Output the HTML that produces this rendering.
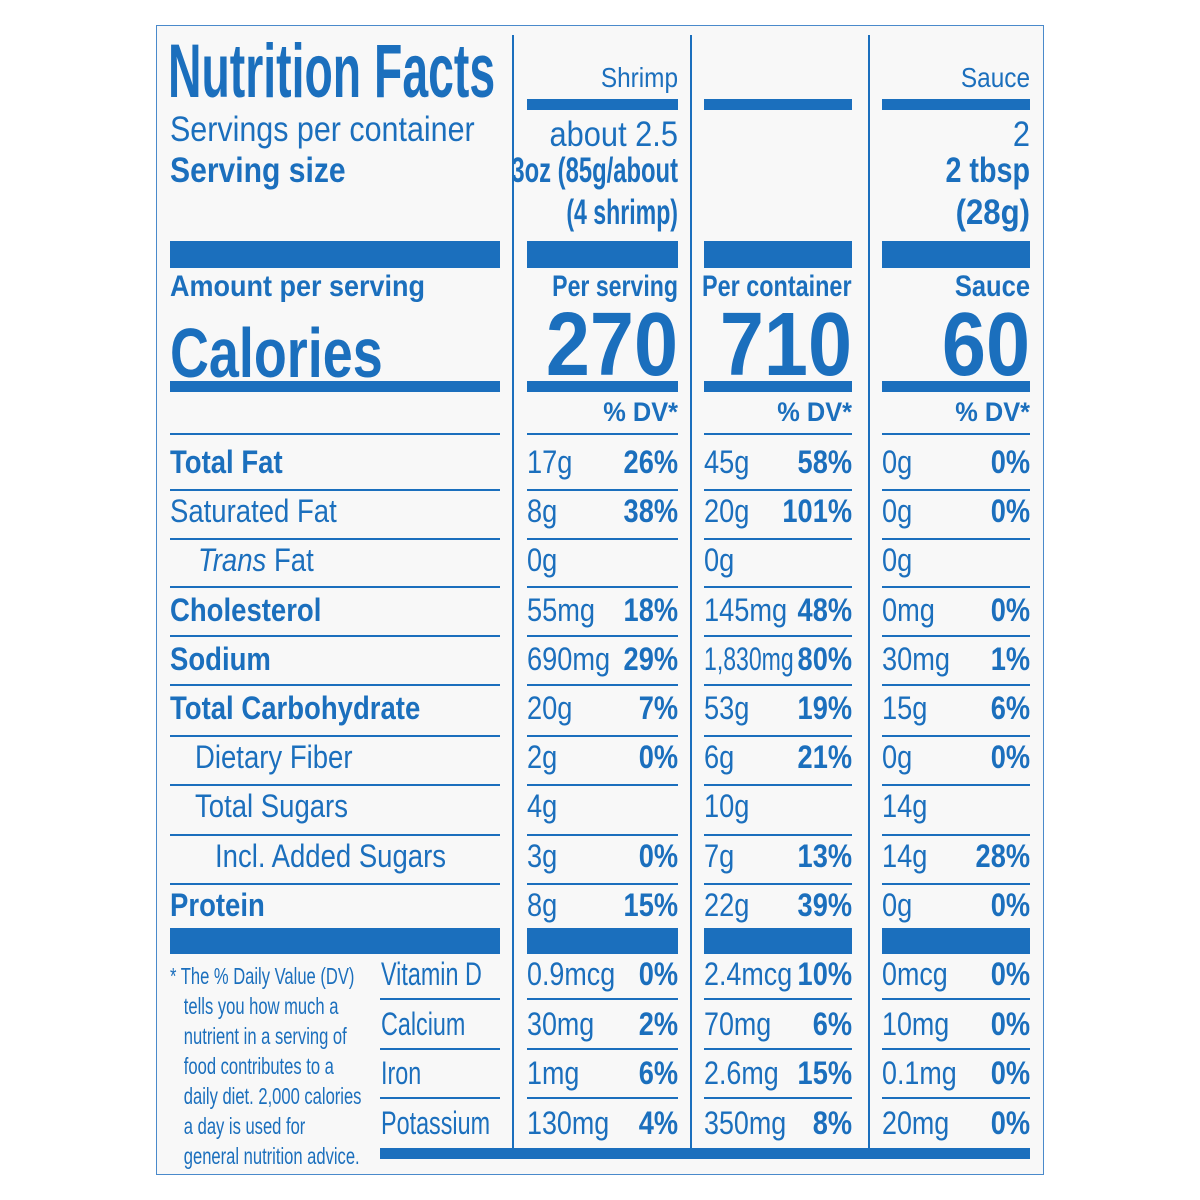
<!DOCTYPE html>
<html><head><meta charset="utf-8"><style>
html,body{margin:0;padding:0;background:#fff;}
#c{position:relative;width:1200px;height:1200px;background:#fff;overflow:hidden;font-family:"Liberation Sans",sans-serif;color:#1b6fbd;}
.b{position:absolute;background:#1b6fbd;}
.t{position:absolute;line-height:1;white-space:nowrap;font-size:32px;transform-origin:left center;}
.r{text-align:right;transform-origin:right center;}
.bo{font-weight:bold;}
</style></head><body><div id="c">
<div style="position:absolute;left:156px;top:25px;width:886px;height:1148px;border:1.5px solid #4a8acb;background:#f8f8f8;"></div>
<div class="b" style="left:512px;top:35px;width:2px;height:1113px"></div>
<div class="b" style="left:690px;top:35px;width:2px;height:1113px"></div>
<div class="b" style="left:868px;top:35px;width:2px;height:1113px"></div>
<div class="b" style="left:527px;top:99px;width:151px;height:11px"></div>
<div class="b" style="left:704px;top:99px;width:148px;height:11px"></div>
<div class="b" style="left:882px;top:99px;width:148px;height:11px"></div>
<div class="b" style="left:170px;top:241px;width:330px;height:27px"></div>
<div class="b" style="left:527px;top:241px;width:151px;height:27px"></div>
<div class="b" style="left:704px;top:241px;width:148px;height:27px"></div>
<div class="b" style="left:882px;top:241px;width:148px;height:27px"></div>
<div class="b" style="left:170px;top:381px;width:330px;height:11px"></div>
<div class="b" style="left:527px;top:381px;width:151px;height:11px"></div>
<div class="b" style="left:704px;top:381px;width:148px;height:11px"></div>
<div class="b" style="left:882px;top:381px;width:148px;height:11px"></div>
<div class="b" style="left:170px;top:928px;width:330px;height:26px"></div>
<div class="b" style="left:527px;top:928px;width:151px;height:26px"></div>
<div class="b" style="left:704px;top:928px;width:148px;height:26px"></div>
<div class="b" style="left:882px;top:928px;width:148px;height:26px"></div>
<div class="b" style="left:380px;top:1148px;width:650px;height:11px"></div>

<div class="t bo" style="left:168px;top:34px;font-size:76px;transform:scaleX(0.61)">Nutrition Facts</div>
<div class="t" style="left:170px;top:112px;font-size:35px;transform:scaleX(0.87)">Servings per container</div>
<div class="t bo" style="left:170px;top:153px;font-size:35px;transform:scaleX(0.86)">Serving size</div>
<div class="t bo" style="left:170px;top:272px;font-size:30px;transform:scaleX(0.9)">Amount per serving</div>
<div class="t bo" style="left:170px;top:318px;font-size:70px;transform:scaleX(0.77)">Calories</div>

<div class="t r" style="left:527px;width:151px;top:64px;font-size:28px;transform:scaleX(0.87)">Shrimp</div>
<div class="t r" style="left:882px;width:148px;top:64px;font-size:28px;transform:scaleX(0.87)">Sauce</div>
<div class="t r" style="left:527px;width:151px;top:117px;font-size:35px;transform:scaleX(0.88)">about 2.5</div>
<div class="t r bo" style="left:378px;width:300px;top:153px;font-size:35px;transform:scaleX(0.68)">3oz (85g/about</div>
<div class="t r bo" style="left:378px;width:300px;top:195px;font-size:35px;transform:scaleX(0.66)">(4 shrimp)</div>
<div class="t r" style="left:882px;width:148px;top:117px;font-size:35px;transform:scaleX(0.88)">2</div>
<div class="t r bo" style="left:882px;width:148px;top:153px;font-size:35px;transform:scaleX(0.82)">2 tbsp</div>
<div class="t r bo" style="left:882px;width:148px;top:195px;font-size:35px;transform:scaleX(0.89)">(28g)</div>

<div class="t r bo" style="left:378px;width:300px;top:272px;font-size:30px;transform:scaleX(0.77)">Per serving</div>
<div class="t bo" style="left:702px;top:272px;font-size:30px;transform:scaleX(0.78)">Per container</div>
<div class="t r bo" style="left:882px;width:148px;top:272px;font-size:30px;transform:scaleX(0.85)">Sauce</div>
<div class="t r bo" style="left:478px;width:200px;top:300px;font-size:90px;transform:scaleX(0.88)">270</div>
<div class="t r bo" style="left:652px;width:200px;top:300px;font-size:90px;transform:scaleX(0.88)">710</div>
<div class="t r bo" style="left:830px;width:200px;top:300px;font-size:90px;transform:scaleX(0.88)">60</div>
<div class="t r bo" style="left:527px;width:151px;top:399px;font-size:27px;transform:scaleX(0.94)">% DV*</div>
<div class="t r bo" style="left:704px;width:148px;top:399px;font-size:27px;transform:scaleX(0.94)">% DV*</div>
<div class="t r bo" style="left:882px;width:148px;top:399px;font-size:27px;transform:scaleX(0.94)">% DV*</div>

<div class="t" style="left:170px;top:961px;font-size:23px;line-height:30px;transform:scaleX(0.72);transform-origin:left top">* The % Daily Value (DV)<br>&nbsp;&nbsp;&nbsp;tells you how much a<br>&nbsp;&nbsp;&nbsp;nutrient in a serving of<br>&nbsp;&nbsp;&nbsp;food contributes to a<br>&nbsp;&nbsp;&nbsp;daily diet. 2,000 calories<br>&nbsp;&nbsp;&nbsp;a day is used for<br>&nbsp;&nbsp;&nbsp;general nutrition advice.</div>
</div>
<script>
var C=document.getElementById('c');
function L(x,y,w){var d=document.createElement('div');d.className='b';d.style.cssText='left:'+x+'px;top:'+y+'px;width:'+w+'px;height:2px';C.appendChild(d);}
function T(x,y,s,cls,w,sc){var d=document.createElement('div');d.className='t '+(cls||'');d.style.left=x+'px';d.style.top=y+'px';if(w)d.style.width=w+'px';d.style.transform='scaleX('+(sc||0.85)+')';d.innerHTML=s;C.appendChild(d);}
var cols=[[527,151],[704,148],[882,148]];
[433,489,538,586,635,684,735,784,834,883].forEach(function(y){L(170,y,330);cols.forEach(function(c){L(c[0],y,c[1]);});});
[998,1048,1097].forEach(function(y){L(380,y,120);cols.forEach(function(c){L(c[0],y,c[1]);});});
var rows=[
["Total Fat",1,0,["17g","26%"],["45g","58%"],["0g","0%"]],
["Saturated Fat",0,0,["8g","38%"],["20g","101%"],["0g","0%"]],
["<i>Trans</i> Fat",0,28,["0g",""],["0g",""],["0g",""]],
["Cholesterol",1,0,["55mg","18%"],["145mg","48%"],["0mg","0%"]],
["Sodium",1,0,["690mg","29%"],["1,830mg","80%"],["30mg","1%"]],
["Total Carbohydrate",1,0,["20g","7%"],["53g","19%"],["15g","6%"]],
["Dietary Fiber",0,25,["2g","0%"],["6g","21%"],["0g","0%"]],
["Total Sugars",0,25,["4g",""],["10g",""],["14g",""]],
["Incl. Added Sugars",0,45,["3g","0%"],["7g","13%"],["14g","28%"]],
["Protein",1,0,["8g","15%"],["22g","39%"],["0g","0%"]]];
function vs(s){return s.length>=7?0.72:(s.length>=6?0.8:0.85);}
rows.forEach(function(r,i){var cy=462+i*49.2;var y=cy-16;
T(170+r[2],y,r[0],r[1]?'bo':'',0,0.86);
for(var k=0;k<3;k++){var c=cols[k];T(c[0],y,r[3+k][0],'',0,vs(r[3+k][0]));T(c[0],y,r[3+k][1],'r bo',c[1],0.85);}});
var vit=[["Vitamin D",["0.9mcg","0%"],["2.4mcg","10%"],["0mcg","0%"]],
["Calcium",["30mg","2%"],["70mg","6%"],["10mg","0%"]],
["Iron",["1mg","6%"],["2.6mg","15%"],["0.1mg","0%"]],
["Potassium",["130mg","4%"],["350mg","8%"],["20mg","0%"]]];
vit.forEach(function(r,i){var y=974+i*49.5-16;T(381,y,r[0],'',0,0.73);
for(var k=0;k<3;k++){var c=cols[k];T(c[0],y,r[1+k][0],'',0,0.84);T(c[0],y,r[1+k][1],'r bo',c[1],0.85);}});
</script>
</body></html>
